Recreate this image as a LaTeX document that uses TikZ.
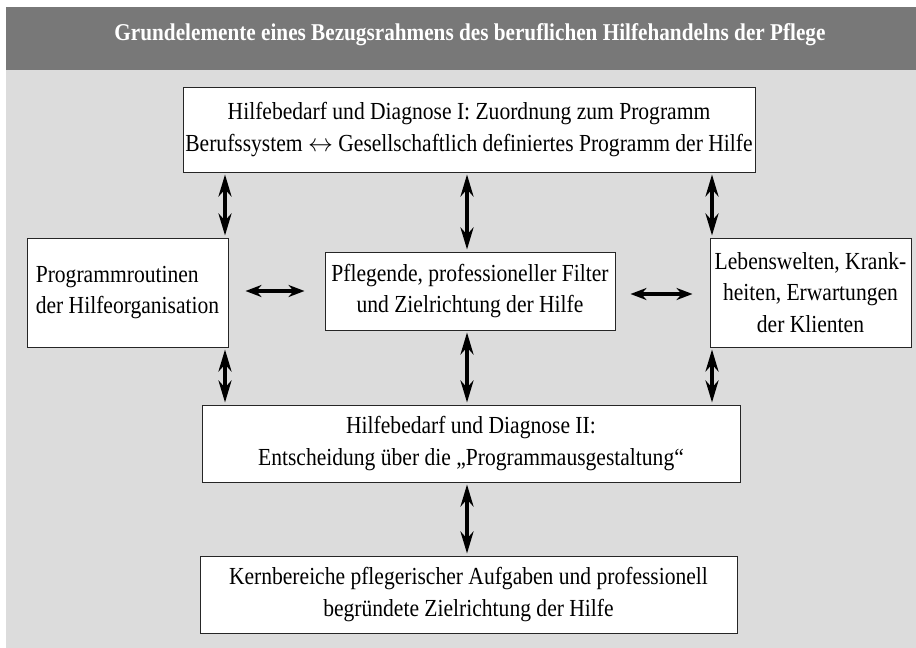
\documentclass[tikz,border=0pt]{standalone}
\usepackage{fontspec}
\setmainfont[FakeStretch=0.88]{Liberation Serif}
\usetikzlibrary{arrows.meta}
\definecolor{hdr}{RGB}{120,120,120}
\definecolor{pane}{RGB}{220,220,220}
\begin{document}
\begin{tikzpicture}[x=1pt,y=-1pt,
  box/.style={draw=black!85, line width=1pt, fill=white, inner sep=0pt, align=center,
              font=\fontsize{24.5}{31.5}\selectfont},
  vdbl/.style={{Stealth[length=22pt,width=13pt]}-{Stealth[length=22pt,width=13pt]},
               line width=3.5pt, shorten >=2pt, shorten <=2pt},
  hdbl/.style={{Stealth[length=16pt,width=12pt]}-{Stealth[length=16pt,width=12pt]},
               line width=3.5pt}]
\useasboundingbox (0,0) rectangle (916,648);
\fill[white] (0,0) rectangle (916,648);
\fill[hdr] (6,7) rectangle (916,70);
\fill[pane] (6,70) rectangle (916,648);
\node[text=white, font=\fontsize{24.1}{28}\selectfont\bfseries] (title) at (470,35)
  {Grundelemente eines Bezugsrahmens des beruflichen Hilfehandelns der Pflege};

\node[box, minimum width=572pt, minimum height=85pt] (top) at (469,129.5)
  {Hilfebedarf und Diagnose I: Zuordnung zum Programm\\
   Berufssystem $\leftrightarrow$ Gesellschaftlich definiertes Programm der Hilfe};
\node[box, minimum width=201pt, minimum height=109pt, align=left] (left) at (127.5,292.5)
  {Programmroutinen\\der Hilfeorganisation};
\node[box, minimum width=290pt, minimum height=78pt] (mid) at (470,291)
  {Pflegende, professioneller Filter\\und Zielrichtung der Hilfe};
\node[box, minimum width=201pt, minimum height=109pt] (right) at (810.5,292.5)
  {Lebenswelten, Krank-\\heiten, Erwartungen\\der Klienten};
\node[box, minimum width=538pt, minimum height=77pt] (diag) at (471,443.5)
  {Hilfebedarf und Diagnose II:\\Entscheidung über die „Programmausgestaltung“};
\node[box, minimum width=537pt, minimum height=77pt] (core) at (468.5,594.5)
  {Kernbereiche pflegerischer Aufgaben und professionell\\begründete Zielrichtung der Hilfe};

\coordinate (xl) at (225,0);
\coordinate (xm) at (467,0);
\coordinate (xr) at (712,0);
\coordinate (yl) at (0,291);
\coordinate (yr) at (0,294);

\draw[vdbl] (top.south -| xl) -- (left.north -| xl);
\draw[vdbl] (top.south -| xm) -- (mid.north -| xm);
\draw[vdbl] (top.south -| xr) -- (right.north -| xr);
\draw[vdbl] (left.south -| xl) -- (diag.north -| xl);
\draw[vdbl] (mid.south -| xm) -- (diag.north -| xm);
\draw[vdbl] (right.south -| xr) -- (diag.north -| xr);
\draw[vdbl] (diag.south -| xm) -- (core.north -| xm);
\draw[hdbl, shorten <=17pt, shorten >=20pt] (left.east |- yl) -- (mid.west |- yl);
\draw[hdbl, shorten <=15pt, shorten >=17pt] (mid.east |- yr) -- (right.west |- yr);
\end{tikzpicture}
\end{document}
